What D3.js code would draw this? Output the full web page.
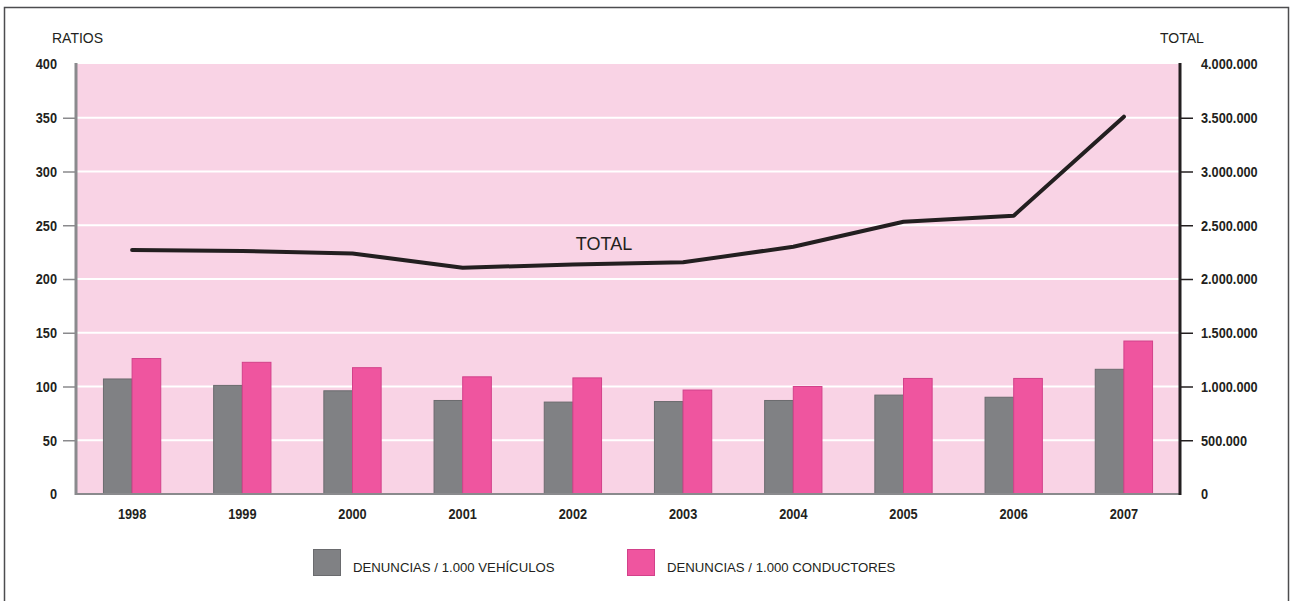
<!DOCTYPE html>
<html>
<head>
<meta charset="utf-8">
<script src="https://cdn.jsdelivr.net/npm/d3@7"></script>
<style>
  html, body { margin: 0; padding: 0; background: #ffffff; }
  svg { display: block; }
</style>
</head>
<body>
<svg id="chart" width="1291" height="601"></svg>
<script>
// ---- data ----
const years = ["1998","1999","2000","2001","2002","2003","2004","2005","2006","2007"];
const perVehicles = [107, 101, 96, 87, 85.5, 86, 87, 92, 90, 116];
const perDrivers  = [126, 122.5, 117.5, 109, 108, 96.7, 100, 107.5, 107.5, 142.3];
const totals = [2270000, 2260000, 2238000, 2105000, 2135000, 2155000, 2300000, 2533000, 2589000, 3510000];
const leftTicks = [0, 50, 100, 150, 200, 250, 300, 350, 400];
const rightTicks = [0, 500000, 1000000, 1500000, 2000000, 2500000, 3000000, 3500000, 4000000];
const seriesNames = ["DENUNCIAS / 1.000 VEHÍCULOS", "DENUNCIAS / 1.000 CONDUCTORES"];
const lineLabel = "TOTAL";
const leftTitle = "RATIOS";
const rightTitle = "TOTAL";

// ---- layout ----
const svg = d3.select("#chart");
const L = 77, R = 1179, T = 64, B = 494;
const txtFont = "'Liberation Sans', Arial, sans-serif";
const ink = "#231f20";
const SX = 0.85; // horizontal condensing of bold numeric labels

const x = d3.scaleBand().domain(years).range([L, R]).padding(0);
const yL = d3.scaleLinear().domain([0, 400]).range([B, T]);
const yR = d3.scaleLinear().domain([0, 4000000]).range([B, T]);
const loc = d3.formatLocale({decimal: ",", thousands: ".", grouping: [3], currency: ["", ""]});
const fmtR = loc.format(",");

// outer frame
svg.append("rect").attr("x", 4.5).attr("y", 7.5).attr("width", 1284).attr("height", 610)
  .attr("fill", "none").attr("stroke", "#4d4d4f").attr("stroke-width", 1.5);

// plot background
svg.append("rect").attr("x", L).attr("y", T).attr("width", R - L).attr("height", B - T)
  .attr("fill", "#f9d3e5");

// gridlines
svg.append("g").selectAll("line")
  .data(leftTicks.filter(d => d > 0 && d < 400))
  .join("line")
  .attr("x1", L).attr("x2", R)
  .attr("y1", d => yL(d)).attr("y2", d => yL(d))
  .attr("stroke", "#ffffff").attr("stroke-width", 1.8);

// bars
const bw = x.bandwidth() * 0.26;
const cx = d => x(d) + x.bandwidth() / 2;
svg.append("g").selectAll("rect")
  .data(years.map((yr, i) => ({yr, v: perVehicles[i]})))
  .join("rect")
  .attr("x", d => cx(d.yr) - bw).attr("width", bw)
  .attr("y", d => yL(d.v)).attr("height", d => B - yL(d.v))
  .attr("fill", "#808184").attr("stroke", "#6a6b6e").attr("stroke-width", 1);
svg.append("g").selectAll("rect")
  .data(years.map((yr, i) => ({yr, v: perDrivers[i]})))
  .join("rect")
  .attr("x", d => cx(d.yr)).attr("width", bw)
  .attr("y", d => yL(d.v)).attr("height", d => B - yL(d.v))
  .attr("fill", "#ef559f").attr("stroke", "#d2418a").attr("stroke-width", 1);

// bottom axis line
svg.append("line").attr("x1", L - 1).attr("x2", R).attr("y1", B).attr("y2", B)
  .attr("stroke", "#8a8a8d").attr("stroke-width", 2.2);

// line series
const line = d3.line().x((d, i) => cx(years[i])).y(d => yR(d));
svg.append("path").datum(totals).attr("d", line)
  .attr("fill", "none").attr("stroke", ink).attr("stroke-width", 4)
  .attr("stroke-linejoin", "round").attr("stroke-linecap", "round");

svg.append("text").attr("x", 604).attr("y", 249.5).attr("text-anchor", "middle")
  .attr("font-family", txtFont).attr("font-size", 18).attr("fill", ink).text(lineLabel);

function styleNum(sel) {
  sel.attr("font-family", txtFont).attr("font-weight", "bold")
    .attr("font-size", 15).attr("fill", ink);
}

// left axis
const gL = svg.append("g").attr("transform", `translate(${L - 1},0)`)
  .call(d3.axisLeft(yL).tickValues(leftTicks).tickSize(13).tickPadding(6).tickFormat(d3.format("d")));
gL.select(".domain").remove();
gL.selectAll(".tick line").attr("stroke", "#8a8a8d").attr("stroke-width", 1.5)
  .attr("display", d => (d === 0 || d === 400) ? "none" : null);
gL.selectAll(".tick text").call(styleNum)
  .attr("x", -19 / SX).attr("transform", `scale(${SX},1)`);
svg.append("line").attr("x1", L - 1).attr("x2", L - 1).attr("y1", T - 1).attr("y2", B + 1)
  .attr("stroke", "#8a8a8d").attr("stroke-width", 3);

// right axis
const gR = svg.append("g").attr("transform", `translate(${R + 1},0)`)
  .call(d3.axisRight(yR).tickValues(rightTicks).tickSize(13).tickPadding(8).tickFormat(fmtR));
gR.select(".domain").remove();
gR.selectAll(".tick line").attr("stroke", ink).attr("stroke-width", 1.5)
  .attr("display", d => (d === 0 || d === 4000000) ? "none" : null);
gR.selectAll(".tick text").call(styleNum)
  .attr("x", 21 / SX).attr("transform", `scale(${SX},1)`);
svg.append("line").attr("x1", R + 1).attr("x2", R + 1).attr("y1", T - 1).attr("y2", B + 1)
  .attr("stroke", ink).attr("stroke-width", 3);

// x axis labels
svg.append("g").selectAll("text").data(years).join("text")
  .attr("transform", d => `translate(${cx(d)},518.5) scale(${SX},1)`)
  .attr("text-anchor", "middle")
  .call(styleNum)
  .text(d => d);

// axis titles
svg.append("text").attr("x", 52).attr("y", 43).attr("font-family", txtFont)
  .attr("font-size", 14).attr("fill", ink).text(leftTitle);
svg.append("text").attr("x", 1160).attr("y", 43).attr("font-family", txtFont)
  .attr("font-size", 14).attr("fill", ink).text(rightTitle);

// legend
const legend = [
  {name: seriesNames[0], fill: "#808184", stroke: "#6a6b6e", x: 313},
  {name: seriesNames[1], fill: "#ef559f", stroke: "#d2418a", x: 627}
];
const lg = svg.append("g").selectAll("g").data(legend).join("g");
lg.append("rect").attr("x", d => d.x + 0.5).attr("y", 549.5).attr("width", 27).attr("height", 26)
  .attr("fill", d => d.fill).attr("stroke", d => d.stroke).attr("stroke-width", 1);
lg.append("text").attr("x", d => d.x + 40).attr("y", 571.5)
  .attr("font-family", txtFont).attr("font-size", 13.2).attr("fill", ink)
  .text(d => d.name);
</script>
</body>
</html>
